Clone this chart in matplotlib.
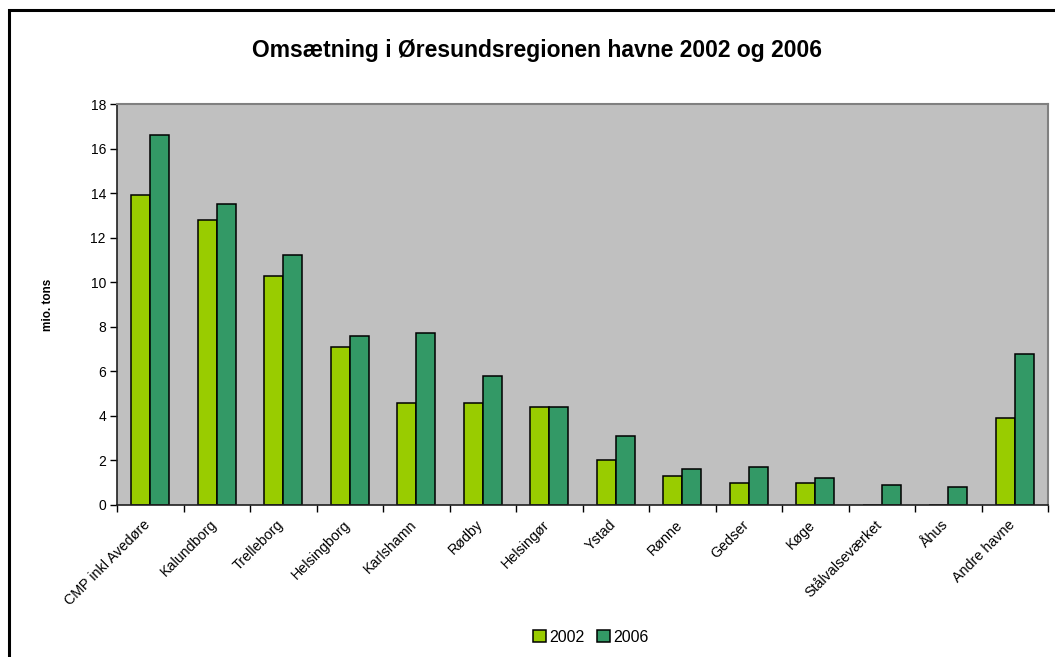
import matplotlib
matplotlib.use("Agg")
import matplotlib.pyplot as plt
import matplotlib.patches as patches
from matplotlib.transforms import ScaledTranslation
import numpy as np

plt.rcParams["font.family"] = ["Liberation Sans", "DejaVu Sans"]

havne = ["CMP inkl Avedøre", "Kalundborg", "Trelleborg", "Helsingborg", "Karlshamn",
         "Rødby", "Helsingør", "Ystad", "Rønne", "Gedser", "Køge",
         "Stålvalseværket", "Åhus", "Andre havne"]
tons_2002 = [13.9, 12.8, 10.3, 7.1, 4.6, 4.6, 4.4, 2.0, 1.3, 1.0, 1.0, 0.0, 0.0, 3.9]
tons_2006 = [16.6, 13.5, 11.2, 7.6, 7.7, 5.8, 4.4, 3.1, 1.6, 1.7, 1.2, 0.9, 0.8, 6.8]
aar = ["2002", "2006"]
y_ticks = [0, 2, 4, 6, 8, 10, 12, 14, 16, 18]

W, H = 1055, 657
fig = plt.figure(figsize=(W / 100, H / 100), dpi=100)
ax = fig.add_axes([117 / W, 1 - 505 / H, (1048 - 117) / W, (505 - 104) / H])
ax.set_facecolor("#C0C0C0")

x = np.arange(len(havne))
bw = 0.286
ax.bar(x - bw / 2, tons_2002, bw, color="#99CC00", edgecolor="black", linewidth=1.1, label=aar[0])
ax.bar(x + bw / 2, tons_2006, bw, color="#339966", edgecolor="black", linewidth=1.1, label=aar[1])

ax.set_xlim(-0.5, len(havne) - 0.5)
ax.set_ylim(0, 18)
ax.set_yticks(y_ticks)
ax.tick_params(axis="y", direction="out", length=5, width=1, labelsize=10, pad=3)

# category labels at centre, tick marks on category boundaries
ax.set_xticks(x)
ax.set_xticklabels(havne, rotation=45, ha="right", va="top", rotation_mode="anchor", fontsize=10.3)
ax.tick_params(axis="x", which="major", length=0, pad=9)
shift = ScaledTranslation(-0.07, 0, fig.dpi_scale_trans)
for lbl in ax.get_xticklabels():
    lbl.set_transform(lbl.get_transform() + shift)
ax.set_xticks(np.arange(len(havne) + 1) - 0.5, minor=True)
ax.tick_params(axis="x", which="minor", direction="out", length=5, width=1)

for side in ["left", "bottom"]:
    ax.spines[side].set_color("#202020")
    ax.spines[side].set_linewidth(1.2)
for side in ["top", "right"]:
    ax.spines[side].set_color("#808080")
    ax.spines[side].set_linewidth(1.5)

ax.set_ylabel("mio. tons", fontsize=8.5, fontweight="bold", labelpad=26)

fig.text(537 / W, 1 - 50 / H, "Omsætning i Øresundsregionen havne 2002 og 2006",
         ha="center", va="center", fontsize=16.5, fontweight="bold")

fig.legend(loc="center", bbox_to_anchor=(591 / W, 1 - 637 / H), ncol=2, frameon=False,
           fontsize=11.5, handlelength=0.8, handleheight=0.8, handletextpad=0.2,
           columnspacing=0.8, borderpad=0)

# chart frame (left and top edges visible)
fig.patches.append(patches.Rectangle((9 / W, -0.1), 1.2, 1 - 10 / H + 0.1,
                                     transform=fig.transFigure, fill=False,
                                     edgecolor="black", linewidth=2.2))

fig.savefig("out.png", dpi=100)
